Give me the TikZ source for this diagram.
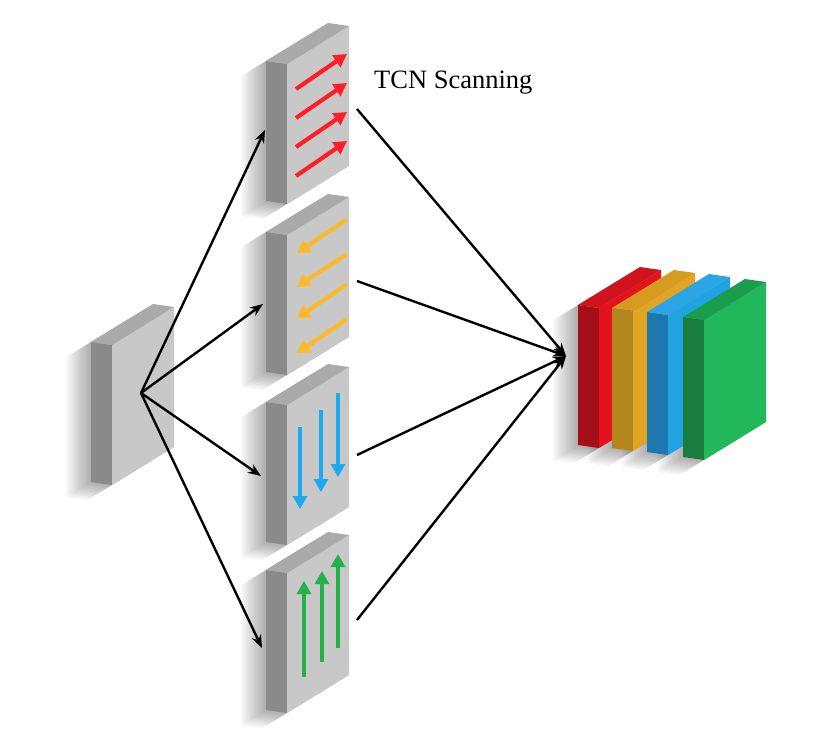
\documentclass[tikz,border=0pt]{standalone}
\usepackage{fontspec}
\setmainfont{Liberation Serif}
\usetikzlibrary{arrows.meta}
\definecolor{gdark}{HTML}{8A8A8A}
\definecolor{glight}{HTML}{C8C8C8}
\definecolor{gtop}{HTML}{AAAAAA}
\definecolor{rdark}{HTML}{A50F1A}
\definecolor{rlight}{HTML}{E3121D}
\definecolor{rtop}{HTML}{D0131C}
\definecolor{odark}{HTML}{B4871E}
\definecolor{olight}{HTML}{E2A523}
\definecolor{otop}{HTML}{D69C22}
\definecolor{bdark}{HTML}{1C78AD}
\definecolor{blight}{HTML}{1FA3E3}
\definecolor{btop}{HTML}{2BA5E5}
\definecolor{kdark}{HTML}{1A7D3F}
\definecolor{klight}{HTML}{20B85A}
\definecolor{ktop}{HTML}{1B9E4B}
\definecolor{redarrow}{HTML}{FF1E27}
\definecolor{orarrow}{HTML}{FDB927}
\definecolor{bluarrow}{HTML}{1CA9F0}
\definecolor{grnarrow}{HTML}{22B24C}
\tikzset{
  pics/slabshadow/.style={code={
    \foreach \k in {1,...,14}{
      \fill[black, opacity=0.022, shift={(-1.8*\k,1.1*\k)}]
        (-21,-3) -- (41,-41) -- (62,-38) -- (62,102) -- (0,140) -- (-21,137) -- cycle;
    }
  }},
  pics/slab/.style args={#1/#2/#3}{code={
    \fill[#1] (-21,-3) -- (0,0) -- (0,140) -- (-21,137) -- cycle;
    \fill[#2] (0,0) -- (62,-38) -- (62,102) -- (0,140) -- cycle;
    \fill[#3] (-21,-3) -- (0,0) -- (62,-38) -- (41,-41) -- cycle;
  }},
  conn/.style={line width=2.4pt, -{Stealth[length=13pt,width=10pt]}},
  scanarrow/.style={line width=4.2pt, -{Triangle[length=13pt,width=14pt]}},
}
\begin{document}
\begin{tikzpicture}[x=1pt,y=-1pt]
\useasboundingbox (0,0) rectangle (836,736);
\fill[white] (0,0) rectangle (836,736);

% shadows
\foreach \p in {(112,345),(287,64),(287,235),(287,405),(287,573),(599,308),(633,311),(668,315),(704,320)}{
  \pic at \p {slabshadow};
}

% input slab
\pic (inslab) at (112,345) {slab=gdark/glight/gtop};
% scanning slabs
\pic (s1) at (287,64) {slab=gdark/glight/gtop};
\pic (s2) at (287,235) {slab=gdark/glight/gtop};
\pic (s3) at (287,405) {slab=gdark/glight/gtop};
\pic (s4) at (287,573) {slab=gdark/glight/gtop};
% output slabs
\pic (o1) at (599,308) {slab=rdark/rlight/rtop};
\pic (o2) at (633,311) {slab=odark/olight/otop};
\pic (o3) at (668,315) {slab=bdark/blight/btop};
\pic (o4) at (704,320) {slab=kdark/klight/ktop};

% scan arrows
\foreach \dy in {0,29,58,87}{
  \draw[scanarrow, redarrow] (296,{176-\dy}) -- (347,{141-\dy});
}
\draw[scanarrow, orarrow] (346.7,219.3) -- (296.7,253.3);
\draw[scanarrow, orarrow] (346.7,254) -- (296.7,287);
\draw[scanarrow, orarrow] (346.7,284.5) -- (296.7,318.3);
\draw[scanarrow, orarrow] (346.7,319.3) -- (296.7,353.3);
\draw[scanarrow, bluarrow] (300,427) -- (300,509);
\draw[scanarrow, bluarrow] (321,410) -- (321,492);
\draw[scanarrow, bluarrow] (338,393) -- (338,477);
\draw[scanarrow, grnarrow] (304,677) -- (304,581);
\draw[scanarrow, grnarrow] (322,662) -- (322,571);
\draw[scanarrow, grnarrow] (338,648) -- (338,554);

% connector coordinates
\coordinate (src) at (141,393);
\coordinate (t1) at (265,130);
\coordinate (t2) at (263,304);
\coordinate (t3) at (261,476);
\coordinate (t4) at (262,648);
\coordinate (r1) at (357,109);
\coordinate (r2) at (357,281);
\coordinate (r3) at (357,455);
\coordinate (r4) at (357,620);
\coordinate (dst) at (566,356);

\draw[conn] (src) -- (t1);
\draw[conn] (src) -- (t2);
\draw[conn] (src) -- (t3);
\draw[conn] (src) -- (t4);
\draw[conn] (r1) -- (dst);
\draw[conn] (r2) -- (dst);
\draw[conn] (r3) -- (dst);
\draw[conn] (r4) -- (dst);

\node[anchor=base west, inner sep=0pt, font=\fontsize{26.5}{30}\selectfont] (title) at (374,88) {TCN Scanning};
\end{tikzpicture}
\end{document}
